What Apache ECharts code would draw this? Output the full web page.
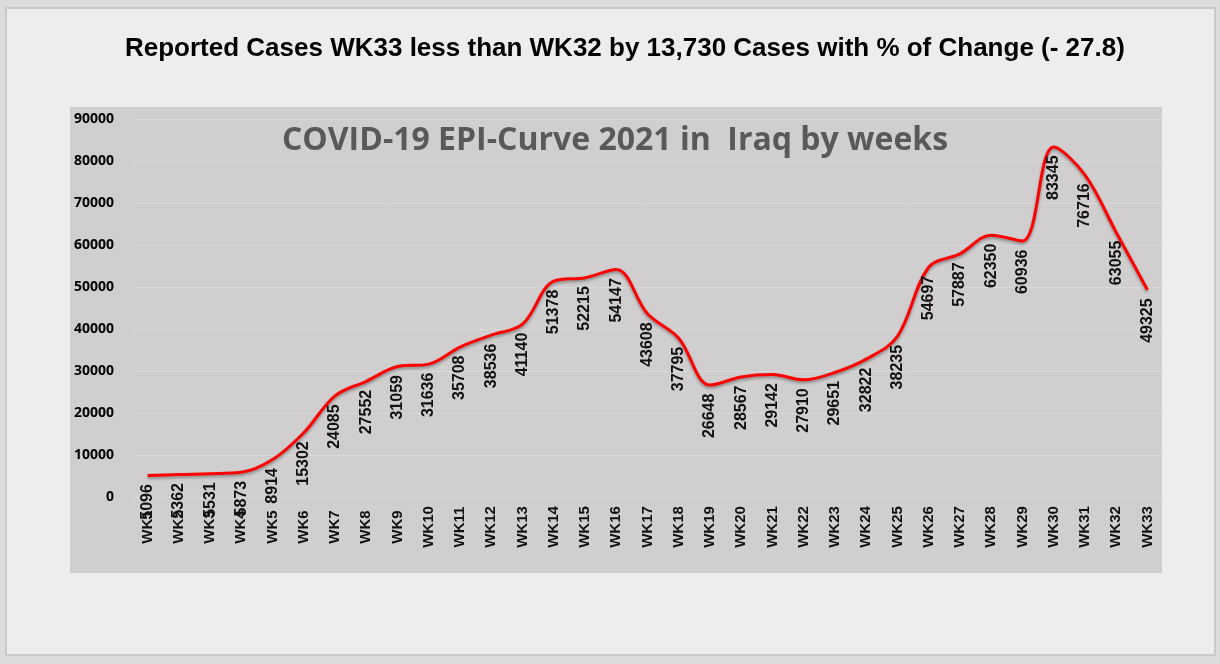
<!DOCTYPE html>
<html>
<head>
<meta charset="utf-8">
<script src="https://cdn.jsdelivr.net/npm/echarts@6/dist/echarts.min.js"></script>
<style>
  html, body { margin: 0; padding: 0; background: #dcdcdc; }
  #main { width: 1220px; height: 664px; }
</style>
</head>
<body>
<div id="main"></div>
<script>
// 周次
const weeks = [
  'WK1', 'WK2', 'WK3', 'WK4', 'WK5', 'WK6', 'WK7', 'WK8', 'WK9', 'WK10', 'WK11',
  'WK12', 'WK13', 'WK14', 'WK15', 'WK16', 'WK17', 'WK18', 'WK19', 'WK20', 'WK21',
  'WK22', 'WK23', 'WK24', 'WK25', 'WK26', 'WK27', 'WK28', 'WK29', 'WK30', 'WK31',
  'WK32', 'WK33'
]
// 每周报告病例
const cases = [
  5096, 5362, 5531, 5873, 8914, 15302, 24085, 27552, 31059, 31636, 35708,
  38536, 41140, 51378, 52215, 54147, 43608, 37795, 26648, 28567, 29142,
  27910, 29651, 32822, 38235, 54697, 57887, 62350, 60936, 83345, 76716,
  63055, 49325
]

const myChart = echarts.init(document.getElementById('main'))

const option = {
  backgroundColor: '#dcdcdc',

  graphic: [
    // 外框
    {
      type: 'rect',
      z: -10,
      shape: { x: 6, y: 8, width: 1209, height: 647 },
      style: { fill: '#ededed', stroke: '#c9c9c9', lineWidth: 2 }
    },
    // 绘图区背景
    {
      type: 'rect',
      z: -9,
      shape: { x: 70, y: 107, width: 1092, height: 466 },
      style: { fill: '#d0cece' }
    },
    // 顶部标题
    {
      type: 'text',
      left: 125,
      top: 36,
      style: {
        text: 'Reported Cases WK33 less than WK32 by 13,730 Cases with % of Change (- 27.8)',
        font: 'bold 26px "Liberation Sans", sans-serif',
        fill: '#000'
      }
    },
    // 图内标题
    {
      type: 'text',
      x: 615,
      y: 141,
      style: {
        text: 'COVID-19 EPI-Curve 2021 in  Iraq by weeks',
        font: 'bold 32px "Open Sans", "Noto Sans", sans-serif',
        fill: '#595959',
        align: 'center',
        verticalAlign: 'middle',
        shadowColor: 'rgba(0,0,0,0.35)',
        shadowBlur: 2,
        shadowOffsetX: 1,
        shadowOffsetY: 1
      }
    }
  ],

  grid: {
    left: 132,
    right: 57,
    top: 119,
    bottom: 167
  },

  xAxis: {
    type: 'category',
    data: weeks,
    boundaryGap: true,
    axisLine: { show: false },
    axisTick: { show: false },
    axisLabel: {
      interval: 0,
      rotate: 90,
      align: 'center',
      verticalAlign: 'middle',
      margin: 30,
      color: '#111',
      fontWeight: 'bold',
      fontFamily: 'Liberation Sans',
      fontSize: 15
    }
  },

  yAxis: {
    type: 'value',
    min: 0,
    max: 90000,
    interval: 10000,
    axisLine: { show: false },
    axisTick: { show: false },
    axisLabel: {
      margin: 18,
      color: '#000',
      fontWeight: 'bold',
      fontFamily: 'Noto Sans',
      fontSize: 14,
      formatter: v => String(v)
    },
    splitLine: { lineStyle: { color: '#d9d7d7', width: 1 } }
  },

  series: [
    {
      type: 'line',
      data: cases,
      smooth: 0.35,
      symbol: 'circle',
      symbolSize: 1,
      showSymbol: true,
      itemStyle: { color: 'rgba(255,0,0,0)' },
      lineStyle: {
        color: '#ff0000',
        width: 3,
        shadowColor: 'rgba(0,0,0,0.35)',
        shadowBlur: 3,
        shadowOffsetY: 2
      },
      label: {
        show: true,
        position: 'bottom',
        distance: 8,
        rotate: 90,
        align: 'right',
        verticalAlign: 'middle',
        color: '#111',
        fontWeight: 'bold',
        fontFamily: 'Liberation Sans',
        fontSize: 16
      }
    }
  ]
}
myChart.setOption(option, { notMerge: true })
</script>
</body>
</html>
